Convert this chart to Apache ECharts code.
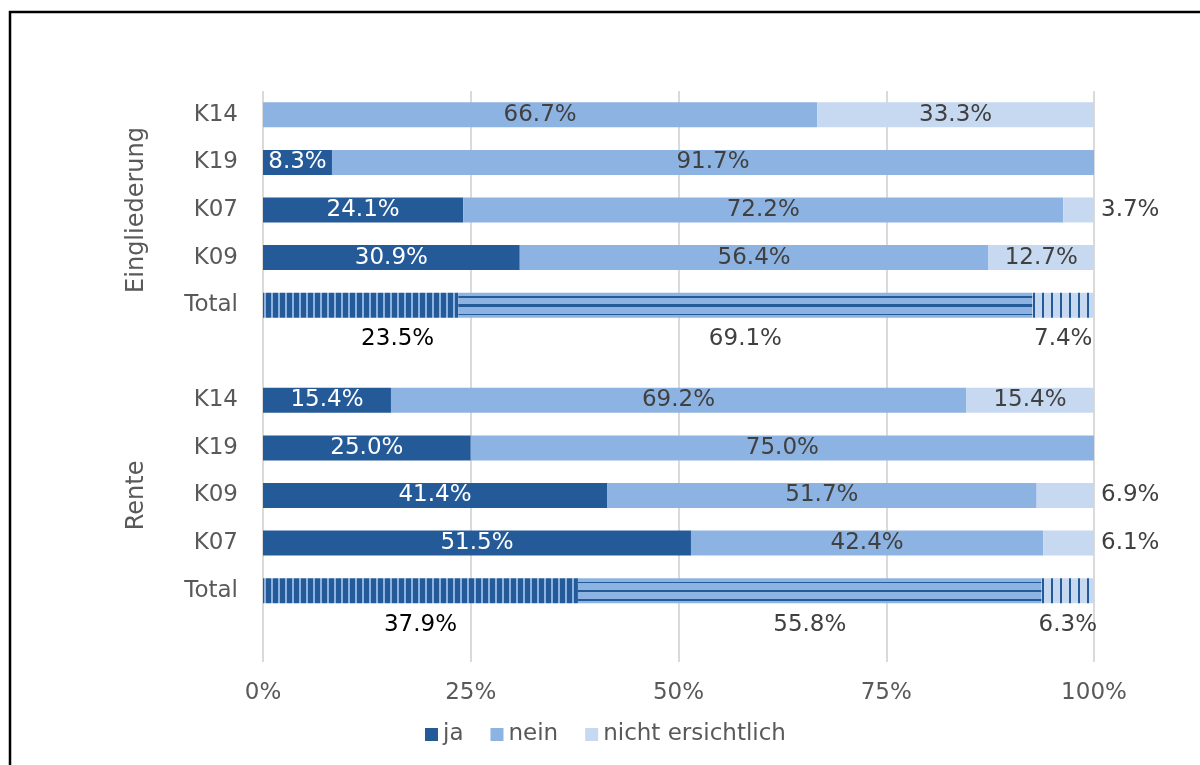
<!DOCTYPE html>
<html>
<head>
<meta charset="utf-8">
<script src="https://cdn.jsdelivr.net/npm/echarts@6/dist/echarts.min.js"></script>
<style>
  html, body { margin: 0; padding: 0; background: #fff; }
  #chart { width: 1200px; height: 765px; }
</style>
</head>
<body>
<div id="chart"></div>
<script>
// rows top to bottom, '' = empty slot under each Total bar (holds its labels)
const categories = ['K14', 'K19', 'K07', 'K09', 'Total', '', 'K14', 'K19', 'K09', 'K07', 'Total', ''];
const ja    = [0,    8.3,  24.1, 30.9, 23.5, null, 15.4, 25.0, 41.4, 51.5, 37.9, null];
const nein  = [66.7, 91.7, 72.2, 56.4, 69.1, null, 69.2, 75.0, 51.7, 42.4, 55.8, null];
const nicht = [33.3, 0,    3.7,  12.7, 7.4,  null, 15.4, 0,    6.9,  6.1,  6.3,  null];
const seriesNames = ['ja', 'nein', 'nicht ersichtlich'];
const groupNames = ['Eingliederung', 'Rente'];
const groupRows = [[0, 4], [6, 10]];   // first / last row index of each group

const cJa = '#255a99', cNein = '#8db3e2', cNicht = '#c6d9f1';
const txt = '#595959', lbl = '#404040';
const font = 'DejaVu Sans';
const fs = 23;

// stripe patterns for the Total bars
function stripes(bg, fg, period, lineW) {
    const c = document.createElement('canvas');
    c.width = period; c.height = 4;
    const ctx = c.getContext('2d');
    ctx.fillStyle = bg; ctx.fillRect(0, 0, period, 4);
    ctx.fillStyle = fg; ctx.fillRect(period - lineW, 0, lineW, 4);
    return { image: c, repeat: 'repeat' };
}
const patJa = stripes(cJa, cNein, 7, 2);
const patNicht = stripes(cNicht, cJa, 9, 2);
function hLines() {
    const bands = [[0.15, 0.2], [0.47, 0.57], [0.84, 0.9]];
    const stops = [{ offset: 0, color: cNein }];
    bands.forEach(b => {
        stops.push({ offset: b[0], color: cNein }, { offset: b[0], color: cJa },
                   { offset: b[1], color: cJa }, { offset: b[1], color: cNein });
    });
    stops.push({ offset: 1, color: cNein });
    return { type: 'linear', x: 0, y: 0, x2: 0, y2: 1, colorStops: stops };
}
const patNein = hLines();

function build(values, pattern, totalColor, kind) {
    return values.map((v, i) => {
        if (v === null) return null;
        const item = { value: v };
        if (categories[i] === 'Total') {
            item.itemStyle = { color: pattern };
            item.label = { position: 'bottom', distance: 10, color: totalColor };
            if (kind === 'ja' && i === 4) item.label.offset = [37, 0];
        } else if (kind === 'nicht' && v > 0 && v < 10) {
            item.label = { position: 'right', distance: 7, color: lbl };
        }
        return item;
    });
}

const labelFmt = p => (p.value ? p.value.toFixed(1) + '%' : '');

function bar(name, data, color, labelColor) {
    return {
        name: name,
        type: 'bar',
        stack: 'all',
        barWidth: 25,
        itemStyle: { color: color },
        label: {
            show: true, position: 'inside', formatter: labelFmt,
            color: labelColor, fontSize: fs, fontFamily: font
        },
        data: data
    };
}

const chart = echarts.init(document.getElementById('chart'));
chart.setOption({
    animation: false,
    grid: { left: 263, right: 106, top: 91, bottom: 103, containLabel: false },
    legend: {
        data: seriesNames,
        left: 420, top: 718,
        icon: 'rect', itemWidth: 13, itemHeight: 13, itemGap: 27,
        textStyle: { color: txt, fontSize: fs, fontFamily: font }
    },
    xAxis: {
        type: 'value', min: 0, max: 100, interval: 25,
        axisLine: { show: false }, axisTick: { show: false },
        splitLine: { lineStyle: { color: '#dadada', width: 2 } },
        axisLabel: { formatter: '{value}%', color: txt, fontSize: fs, fontFamily: font, margin: 20 }
    },
    yAxis: {
        type: 'category', inverse: true, data: categories,
        axisLine: { show: false }, axisTick: { show: false },
        axisLabel: { color: txt, fontSize: fs, fontFamily: font, margin: 25 }
    },
    series: [
        bar('ja', build(ja, patJa, '#000', 'ja'), cJa, '#fff'),
        bar('nein', build(nein, patNein, lbl, 'nein'), cNein, lbl),
        bar('nicht ersichtlich', build(nicht, patNicht, lbl, 'nicht'), cNicht, lbl)
    ]
});

// rotated group titles + outer frame
const graphics = groupNames.map((g, k) => {
    const y0 = chart.convertToPixel({ yAxisIndex: 0 }, groupRows[k][0]);
    const y1 = chart.convertToPixel({ yAxisIndex: 0 }, groupRows[k][1]);
    return {
        type: 'text', x: 137, y: (y0 + y1) / 2, rotation: Math.PI / 2,
        style: { text: g, fill: txt, font: '24px "' + font + '"', align: 'center', verticalAlign: 'middle' }
    };
});
graphics.push({
    type: 'rect', shape: { x: 10, y: 12, width: 1400, height: 1000 },
    style: { fill: 'none', stroke: '#000', lineWidth: 2.5 }
});
chart.setOption({ graphic: graphics });
</script>
</body>
</html>
